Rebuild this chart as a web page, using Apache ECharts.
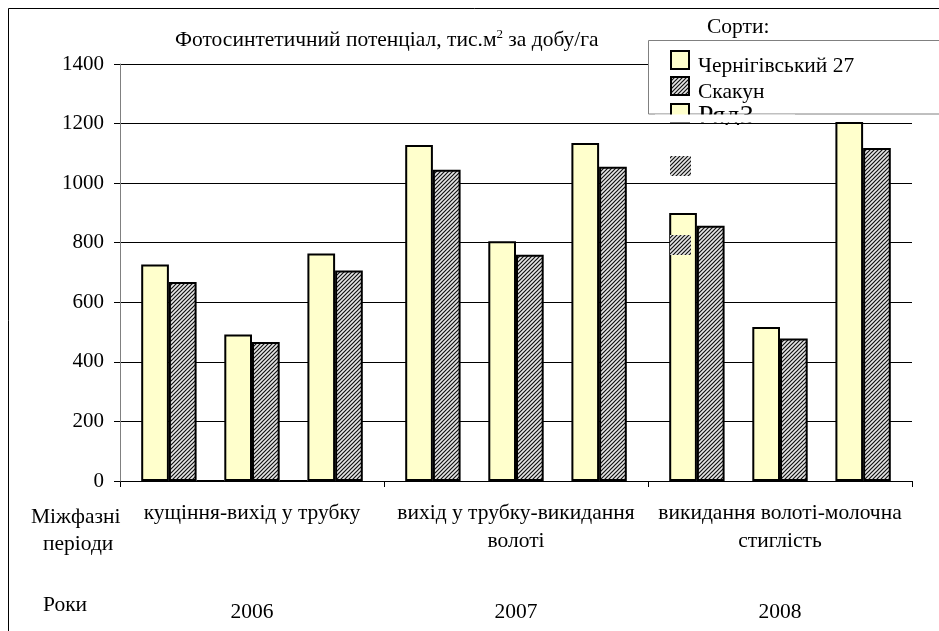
<!DOCTYPE html>
<html>
<head>
<meta charset="utf-8">
<script src="https://cdn.jsdelivr.net/npm/echarts@6/dist/echarts.min.js"></script>
<style>
html,body{margin:0;padding:0;background:#fff;}
#chart{width:939px;height:631px;}
</style>
</head>
<body>
<div id="chart"></div>
<script>
// ---- data ----
const periods = ['кущіння-вихід у трубку', 'вихід у трубку-викидання\nволоті', 'викидання волоті-молочна\nстиглість'];
const years = ['2006', '2007', '2008'];
const seriesNames = ['Чернігівський 27', 'Скакун', 'Ряд3'];
const chernihiv27 = [727, 492, 764, 1128, 805, 1135, 900, 517, 1205];
const skakun = [668, 467, 707, 1045, 760, 1055, 857, 478, 1118];
const row3 = [0, 0, null, null, null, null, null, null, null];
const yMin = 0, yMax = 1400, yStep = 200;

const FONT = "'Liberation Serif', 'Times New Roman', serif";
const FS = 21.5;
const YELLOW = '#FFFFCC';

function makeHatch() {
  const c = document.createElement('canvas');
  c.width = 4; c.height = 4;
  const g = c.getContext('2d');
  g.fillStyle = '#e6e6e6';
  g.fillRect(0, 0, 4, 4);
  g.strokeStyle = '#111';
  g.lineWidth = 1.2;
  g.beginPath();
  g.moveTo(-1, 5); g.lineTo(5, -1);
  g.moveTo(-1, 1); g.lineTo(1, -1);
  g.moveTo(3, 5); g.lineTo(5, 3);
  g.stroke();
  return c;
}
const hatch = { image: makeHatch(), repeat: 'repeat' };

const valueSets = [chernihiv27, skakun, row3];
const fills = [YELLOW, hatch, YELLOW];
const BW = 27.7;

const series = [{
  type: 'bar', name: '_pad', data: [], barWidth: BW, barGap: '0%',
  itemStyle: { color: 'rgba(0,0,0,0)' }, silent: true, z: 10
}];
for (let p = 0; p < 3; p++) {
  for (let s = 0; s < 3; s++) {
    const arr = valueSets[s];
    series.push({
      type: 'bar',
      name: seriesNames[s],
      data: [arr[p], arr[3 + p], arr[6 + p]],
      barWidth: BW,
      barGap: '0%',
      z: 10,
      itemStyle: { color: fills[s], borderColor: '#000', borderWidth: 2 },
      emphasis: { disabled: true }
    });
  }
}

const chart = echarts.init(document.getElementById('chart'), null, { renderer: 'canvas' });
chart.setOption({
  animation: false,
  backgroundColor: '#fff',
  textStyle: { fontFamily: FONT },
  title: {
    text: 'Фотосинтетичний потенціал, тис.м{sup|2} за добу/га',
    left: 175, top: 28, padding: 0,
    textStyle: {
      fontFamily: FONT, fontSize: FS, fontWeight: 'normal', color: '#000',
      rich: { sup: { fontFamily: FONT, fontSize: 13, color: '#000', padding: [0, 0, 11, 0] } }
    }
  },
  legend: {
    orient: 'vertical', left: 670, top: 43, padding: 0,
    itemWidth: 18, itemHeight: 18, itemGap: -8,
    icon: 'rect',
    z: 7,
    selectedMode: false,
    formatter: function (name) { return name === 'Ряд3' ? '{b|' + name + '}' : '{a|' + name + '}'; },
    textStyle: {
      fontFamily: FONT, fontSize: FS, color: '#000',
      rich: {
        a: { fontFamily: FONT, fontSize: FS, color: '#000', lineHeight: 20, padding: [12, 0, 0, 4] },
        b: { fontFamily: FONT, fontSize: 28, color: '#000', lineHeight: 28, padding: [8, 0, 0, 4] }
      }
    },
    data: seriesNames
  },
  grid: { left: 120, right: 27, top: 64, bottom: 150, containLabel: false },
  xAxis: [{
    type: 'category', data: periods, position: 'bottom',
    axisLine: { show: true, lineStyle: { color: '#808080', width: 1 } },
    axisTick: { show: true, length: 6, lineStyle: { color: '#000', width: 1 } },
    axisLabel: { interval: 0, margin: 18, fontFamily: FONT, fontSize: FS, color: '#000', lineHeight: 28, hideOverlap: false },
    splitLine: { show: false }, z: 3
  }, {
    type: 'category', data: years, position: 'bottom', offset: 117,
    axisLine: { show: false }, axisTick: { show: false },
    axisLabel: { interval: 0, margin: 0, fontFamily: FONT, fontSize: FS, color: '#000', lineHeight: 28 },
    splitLine: { show: false }
  }],
  yAxis: {
    type: 'value', min: yMin, max: yMax, interval: yStep,
    axisLine: { show: true, lineStyle: { color: '#808080', width: 1 } },
    axisTick: { show: true, length: 6, lineStyle: { color: '#000', width: 1 } },
    axisLabel: { margin: 16, fontFamily: FONT, fontSize: 21, color: '#000', formatter: function (v) { return String(v); } },
    splitLine: { show: true, lineStyle: { color: '#000', width: 1 } },
    z: 5
  },
  series: series,
  graphic: [
    { type: 'rect', silent: true, z: 1, shape: { x: 8.5, y: 8.5, width: 1000, height: 700 },
      style: { fill: 'none', stroke: '#000', lineWidth: 1 } },
    { type: 'rect', silent: true, z: 6, shape: { x: 648.5, y: 40.5, width: 400, height: 73.5 },
      style: { fill: '#fff', stroke: '#808080', lineWidth: 1 } },
    { type: 'rect', silent: true, z: 8, shape: { x: 655, y: 114.6, width: 140, height: 8 },
      style: { fill: '#fff' } },
    { type: 'rect', silent: true, z: 8, shape: { x: 655, y: 125, width: 140, height: 12 },
      style: { fill: '#fff' } },
    { type: 'text', silent: true, z: 8, left: 707, top: 16,
      style: { text: 'Сорти:', font: FS + "px 'Liberation Serif', 'Times New Roman', serif", fill: '#000' } },
    { type: 'text', silent: true, z: 8, left: 31, top: 506,
      style: { text: 'Міжфазні', font: FS + "px 'Liberation Serif', 'Times New Roman', serif", fill: '#000' } },
    { type: 'text', silent: true, z: 8, left: 43, top: 533,
      style: { text: 'періоди', font: FS + "px 'Liberation Serif', 'Times New Roman', serif", fill: '#000' } },
    { type: 'text', silent: true, z: 8, left: 43, top: 594,
      style: { text: 'Роки', font: FS + "px 'Liberation Serif', 'Times New Roman', serif", fill: '#000' } },
    { type: 'rect', silent: true, z: 12, shape: { x: 670, y: 156, width: 21, height: 20 },
      style: { fill: hatch } },
    { type: 'rect', silent: true, z: 12, shape: { x: 670, y: 235, width: 21, height: 20 },
      style: { fill: hatch } }
  ]
});
</script>
</body>
</html>
